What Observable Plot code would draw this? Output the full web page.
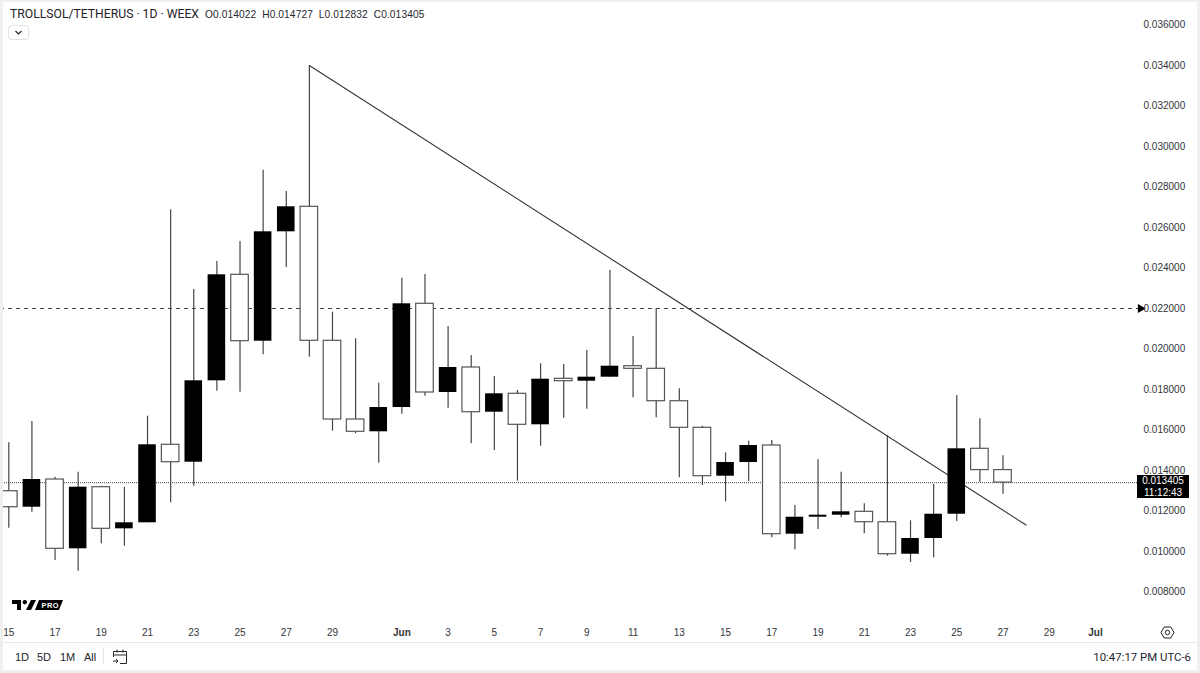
<!DOCTYPE html>
<html>
<head>
<meta charset="utf-8">
<script src="https://cdn.jsdelivr.net/npm/d3@7"></script>
<script src="https://cdn.jsdelivr.net/npm/@observablehq/plot@0.6"></script>
<style>
html,body{margin:0;padding:0;background:#fff;}
#wrap{position:relative;width:1200px;height:673px;overflow:hidden;font-family:"Liberation Sans",sans-serif;color:#131722;}
#chart{position:absolute;left:0;top:0;}
.abs{position:absolute;white-space:nowrap;}
</style>
</head>
<body>
<div id="wrap">
  <div id="chart"></div>
  <div class="abs" style="left:10px;top:7px;font-family:Roboto,sans-serif;font-size:12.2px;line-height:15px;color:#1f2126;">TROLLSOL/TETHERUS · 1D · WEEX</div>
  <div class="abs" style="left:205px;top:8px;font-size:10.2px;line-height:13px;letter-spacing:.1px;color:#26282e;">O0.014022&nbsp; H0.014727&nbsp; L0.012832&nbsp; C0.013405</div>
  <div class="abs" style="left:8px;top:25px;width:21px;height:15px;border:1px solid #e0e3eb;border-radius:3px;box-sizing:border-box;background:#fff;">
    <svg width="19" height="13" style="display:block"><path d="M6.5 5 L9.5 8 L12.5 5" fill="none" stroke="#222" stroke-width="1.1"/></svg>
  </div>
  <svg class="abs" style="left:12px;top:599px" width="52" height="13" viewBox="0 0 52 13">
    <path d="M0 1 H9 V11 H5 V5 H0 Z M12.8 1 a2.2 2.2 0 1 1 -.01 0 Z M19 1 H24 L19 11 H14 Z" fill="#000"/>
    <path d="M27 1 H51 L47 11 H23 Z" fill="#000"/>
    <text x="29.5" y="9" font-size="7.4" font-weight="700" letter-spacing=".5" fill="#fff" font-family="Liberation Sans">PRO</text>
  </svg>
  <div class="abs" style="left:1137px;top:475px;width:52px;height:23px;background:#000;color:#fff;font-size:10px;line-height:11.5px;text-align:center;">0.013405<br>11:12:43</div>
  <svg class="abs" style="left:1160px;top:625px" width="15" height="15" viewBox="0 0 15 15">
    <path d="M4.2 2 H10.8 L14 7.5 L10.8 13 H4.2 L1 7.5 Z" fill="none" stroke="#1c1e24" stroke-width="1"/>
    <circle cx="7.5" cy="7.5" r="2.2" fill="none" stroke="#1c1e24" stroke-width="1"/>
  </svg>
  <div class="abs" style="left:0;top:642px;width:1200px;height:1px;background:#e6e8ee;"></div>
  <div class="abs" style="left:15px;top:650px;font-size:11px;line-height:14px;color:#24262c;">1D</div>
  <div class="abs" style="left:37px;top:650px;font-size:11px;line-height:14px;color:#24262c;">5D</div>
  <div class="abs" style="left:60px;top:650px;font-size:11px;line-height:14px;color:#24262c;">1M</div>
  <div class="abs" style="left:84px;top:650px;font-size:11px;line-height:14px;color:#24262c;">All</div>
  <div class="abs" style="left:103px;top:648px;width:1px;height:17px;background:#e6e8ee;"></div>
  <svg class="abs" style="left:112px;top:648px" width="16" height="17" viewBox="0 0 16 17">
    <path d="M1.5 9 V3.5 H14.5 V15.5 H8 M1.5 7 H14.5 M5 1.5 V4.5 M11 1.5 V4.5 M1 13 H6 M4 11 L6 13 L4 15" fill="none" stroke="#24262c" stroke-width="1"/>
  </svg>
  <div class="abs" style="right:9px;top:650px;font-family:Roboto,sans-serif;font-size:11.4px;line-height:14px;color:#24262c;">10:47:17 PM UTC-6</div>
  <div class="abs" style="left:0;top:0;width:3px;height:673px;background:#efefef;"></div>
  <div class="abs" style="left:0;top:0;width:1200px;height:2px;background:#efefef;"></div>
  <div class="abs" style="right:0;top:0;width:3px;height:673px;background:#efefef;"></div>
  <div class="abs" style="left:0;bottom:0;width:1200px;height:3px;background:#efefef;"></div>
</div>
<script>
// Daily candles from 15 May (values in TetherUS)
const firstDay = "2025-05-15";
const opens = [0.012979,0.012189,0.013557,0.010135,0.013177,0.011122,0.011419,0.015271,0.014411,0.018431,0.023665,0.020386,0.025788,0.027023,0.020406,0.016520,0.015913,0.017112,0.022233,0.017853,0.019088,0.016880,0.017789,0.016258,0.018529,0.018411,0.018609,0.019152,0.019023,0.017423,0.016110,0.013720,0.014396,0.015236,0.010856,0.011695,0.011794,0.011962,0.011448,0.009868,0.010644,0.011843,0.015073,0.014022];
const highs = [0.015369,0.016421,0.013671,0.013917,0.013226,0.013177,0.016683,0.026875,0.022939,0.024322,0.025309,0.028830,0.027778,0.034000,0.021818,0.020505,0.018312,0.023497,0.023680,0.021112,0.019680,0.018643,0.017952,0.019270,0.019236,0.019927,0.023877,0.020618,0.021986,0.018036,0.016189,0.014875,0.015448,0.015483,0.012273,0.014530,0.013917,0.012357,0.015730,0.011518,0.013310,0.017705,0.016554,0.014727];
const lows = [0.011152,0.011942,0.009557,0.009029,0.010382,0.010263,0.011419,0.012406,0.013226,0.017917,0.017868,0.019715,0.024026,0.019596,0.015942,0.015814,0.014362,0.016782,0.017670,0.017078,0.015320,0.014989,0.013473,0.015201,0.016584,0.017028,0.018609,0.017591,0.016604,0.013641,0.013261,0.012456,0.013458,0.010678,0.010086,0.011088,0.011666,0.010876,0.009770,0.009458,0.009691,0.011483,0.013424,0.012832];
const closes = [0.012189,0.013557,0.010135,0.013177,0.011122,0.011419,0.015271,0.014411,0.018431,0.023665,0.020386,0.025788,0.027023,0.020406,0.016520,0.015913,0.017112,0.022233,0.017853,0.019088,0.016880,0.017789,0.016258,0.018510,0.018411,0.018609,0.019152,0.019023,0.017423,0.016110,0.013720,0.014396,0.015236,0.010856,0.011695,0.011794,0.011962,0.011448,0.009868,0.010644,0.011843,0.015073,0.014022,0.013405];

const priceTicks = [0.008,0.010,0.012,0.014,0.016,0.018,0.020,0.022,0.024,0.026,0.028,0.030,0.032,0.034,0.036];
const dayTicks = ["2025-05-15","2025-05-17","2025-05-19","2025-05-21","2025-05-23","2025-05-25","2025-05-27","2025-05-29","2025-06-03","2025-06-05","2025-06-07","2025-06-09","2025-06-11","2025-06-13","2025-06-15","2025-06-17","2025-06-19","2025-06-21","2025-06-23","2025-06-25","2025-06-27","2025-06-29"];
const monthTicks = [["2025-06-01","Jun"],["2025-07-01","Jul"]];
const levelPrice = 0.022;
const lastPrice = 0.013405;
const trendDates = ["2025-05-28","2025-06-28"];
const trendPrices = [0.034,0.011309];

const DAY = 864e5;
const t0 = Date.parse(firstDay);
const date = s => new Date(s);
const candles = opens.map((o,i) => {
  const t = t0 + i*DAY;
  return {t:new Date(t), t1:new Date(t-0.38*DAY), t2:new Date(t+0.38*DAY), o, h:highs[i], l:lows[i], c:closes[i], up:closes[i] >= o};
});
const trend = trendDates.map((d,i) => ({t:date(d), p:trendPrices[i]}));
const xMin = new Date(t0 - 0.359*DAY), xMax = new Date(t0 + 48.86*DAY);

const textCol = "#33353b";
const chart = Plot.plot({
  width:1200, height:673,
  marginLeft:0, marginRight:62, marginTop:0, marginBottom:51,
  style:{fontFamily:"Liberation Sans, sans-serif", background:"transparent", overflow:"visible"},
  x:{type:"utc", domain:[xMin,xMax]},
  y:{type:"linear", domain:[0.006496,0.03721]},
  marks:[
    Plot.ruleY([levelPrice],{stroke:"#444",strokeWidth:1.1,strokeDasharray:"4 4"}),
    Plot.ruleY([lastPrice],{stroke:"#666",strokeWidth:1.1,strokeDasharray:"1 1"}),
    Plot.line(trend,{x:"t",y:"p",stroke:"#333",strokeWidth:1.1}),
    Plot.ruleX(candles,{x:"t",y1:"l",y2:"h",stroke:"#444",strokeWidth:1.2}),
    Plot.rect(candles.filter(d=>!d.up),{x1:"t1",x2:"t2",y1:"o",y2:"c",fill:"#fff",stroke:"#555",strokeWidth:1.2,inset:0}),
    Plot.rect(candles.filter(d=>d.up),{x1:"t1",x2:"t2",y1:"o",y2:"c",fill:"#000"}),
    Plot.dot([levelPrice],{x:()=>xMax,y:d=>d,symbol:"triangle",r:3.4,fill:"#000",rotate:90,dx:2}),
    Plot.axisY(priceTicks,{anchor:"right",tickSize:0,tickPadding:5,tickFormat:d3.format(".6f"),fontSize:10,fill:textCol,label:null}),
    Plot.axisX(dayTicks.map(date),{anchor:"bottom",tickSize:0,tickPadding:6,tickFormat:d=>String(d.getUTCDate()),fontSize:10,fill:textCol,label:null}),
    Plot.axisX(monthTicks.map(d=>date(d[0])),{anchor:"bottom",tickSize:0,tickPadding:6,tickFormat:d=>d.getUTCMonth()===5?"Jun":"Jul",fontSize:10,fontWeight:"bold",fill:textCol,label:null})
  ]
});
document.getElementById("chart").appendChild(chart);
</script>
</body>
</html>
